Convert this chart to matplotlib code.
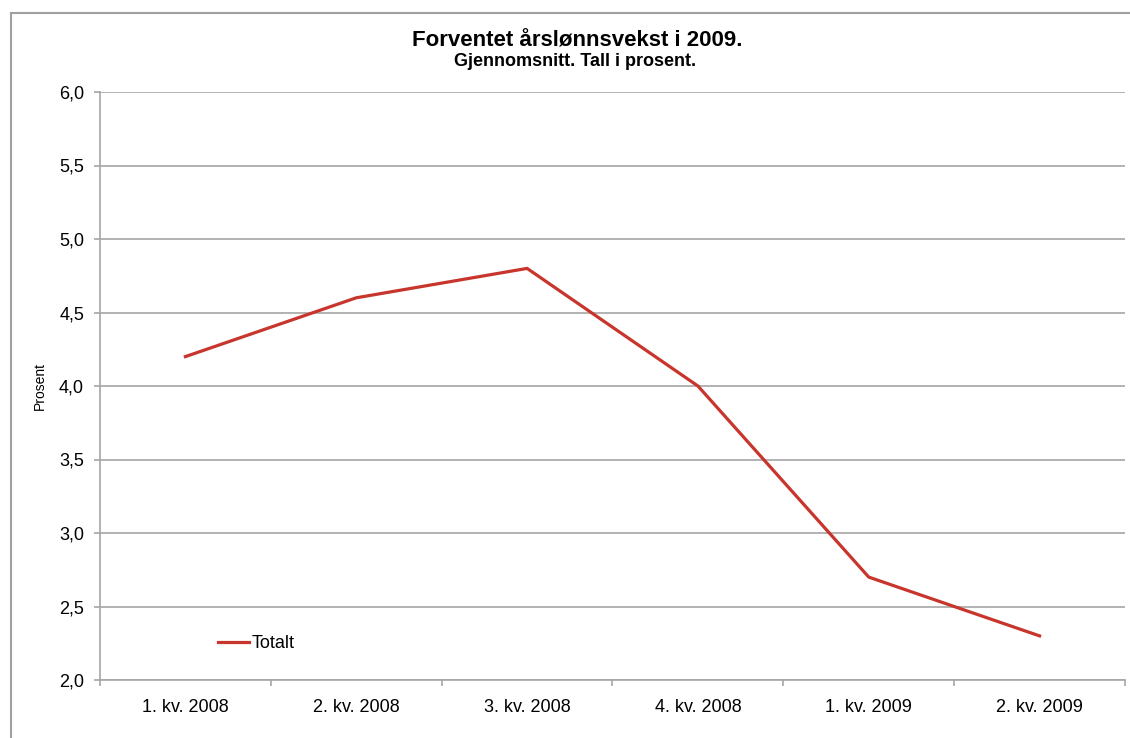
import matplotlib
matplotlib.use("Agg")
import matplotlib.pyplot as plt
from matplotlib.patches import Rectangle

plt.rcParams['font.family'] = ['Liberation Sans', 'DejaVu Sans']

# data
kvartal = ["1. kv. 2008", "2. kv. 2008", "3. kv. 2008", "4. kv. 2008", "1. kv. 2009", "2. kv. 2009"]
totalt = [4.2, 4.6, 4.8, 4.0, 2.7, 2.3]
yticks = [2.0, 2.5, 3.0, 3.5, 4.0, 4.5, 5.0, 5.5, 6.0]

W, H = 1130, 738
fig = plt.figure(figsize=(W / 100, H / 100), dpi=100)
ax = fig.add_axes([100 / W, 1 - 680 / H, 1025 / W, 588 / H])

grid_col = "#a6a6a6"
red = "#c8352c"

# outer chart border (cut off at right/bottom like the source)
fig.patches.append(Rectangle((11 / W, -0.05), 1.2, 1 - 13 / H + 0.05,
                             transform=fig.transFigure, fill=False,
                             edgecolor="#a0a0a0", linewidth=1.5))

x = list(range(len(kvartal)))
ax.plot(x, totalt, color=red, linewidth=2.3, label="Totalt", zorder=3)

ax.set_xlim(-0.5, len(kvartal) - 0.5)
ax.set_ylim(2.0, 6.0)
ax.set_yticks(yticks)
ax.set_yticklabels([f"{v:.1f}".replace(".", ",") for v in yticks], fontsize=13)
ax.yaxis.grid(True, color=grid_col, linewidth=1.2)
ax.set_axisbelow(True)

ax.set_xticks(x)
ax.set_xticklabels(kvartal, fontsize=13)
ax.tick_params(axis="x", length=0, pad=14)
ax.set_xticks([i - 0.5 for i in range(len(kvartal) + 1)], minor=True)
ax.tick_params(axis="x", which="minor", length=4.5, color=grid_col, width=1.2)
ax.tick_params(axis="y", length=4.5, color=grid_col, width=1.2, pad=7)

for s in ["top", "right"]:
    ax.spines[s].set_visible(False)
for s in ["left", "bottom"]:
    ax.spines[s].set_color(grid_col)
    ax.spines[s].set_linewidth(1.2)

ax.set_ylabel("Prosent", fontsize=10, labelpad=9)

fig.text(577 / W, 1 - 41 / H, "Forventet årslønnsvekst i 2009.", ha="center", va="center",
         fontsize=16, fontweight="bold")
fig.text(575 / W, 1 - 61 / H, "Gjennomsnitt. Tall i prosent.", ha="center", va="center",
         fontsize=13, fontweight="bold")

ax.legend(loc="lower left", bbox_to_anchor=(102 / 1025, 0.02), frameon=False,
          fontsize=13, handlelength=1.7, handletextpad=0.15)

fig.savefig("out.png", dpi=100)
